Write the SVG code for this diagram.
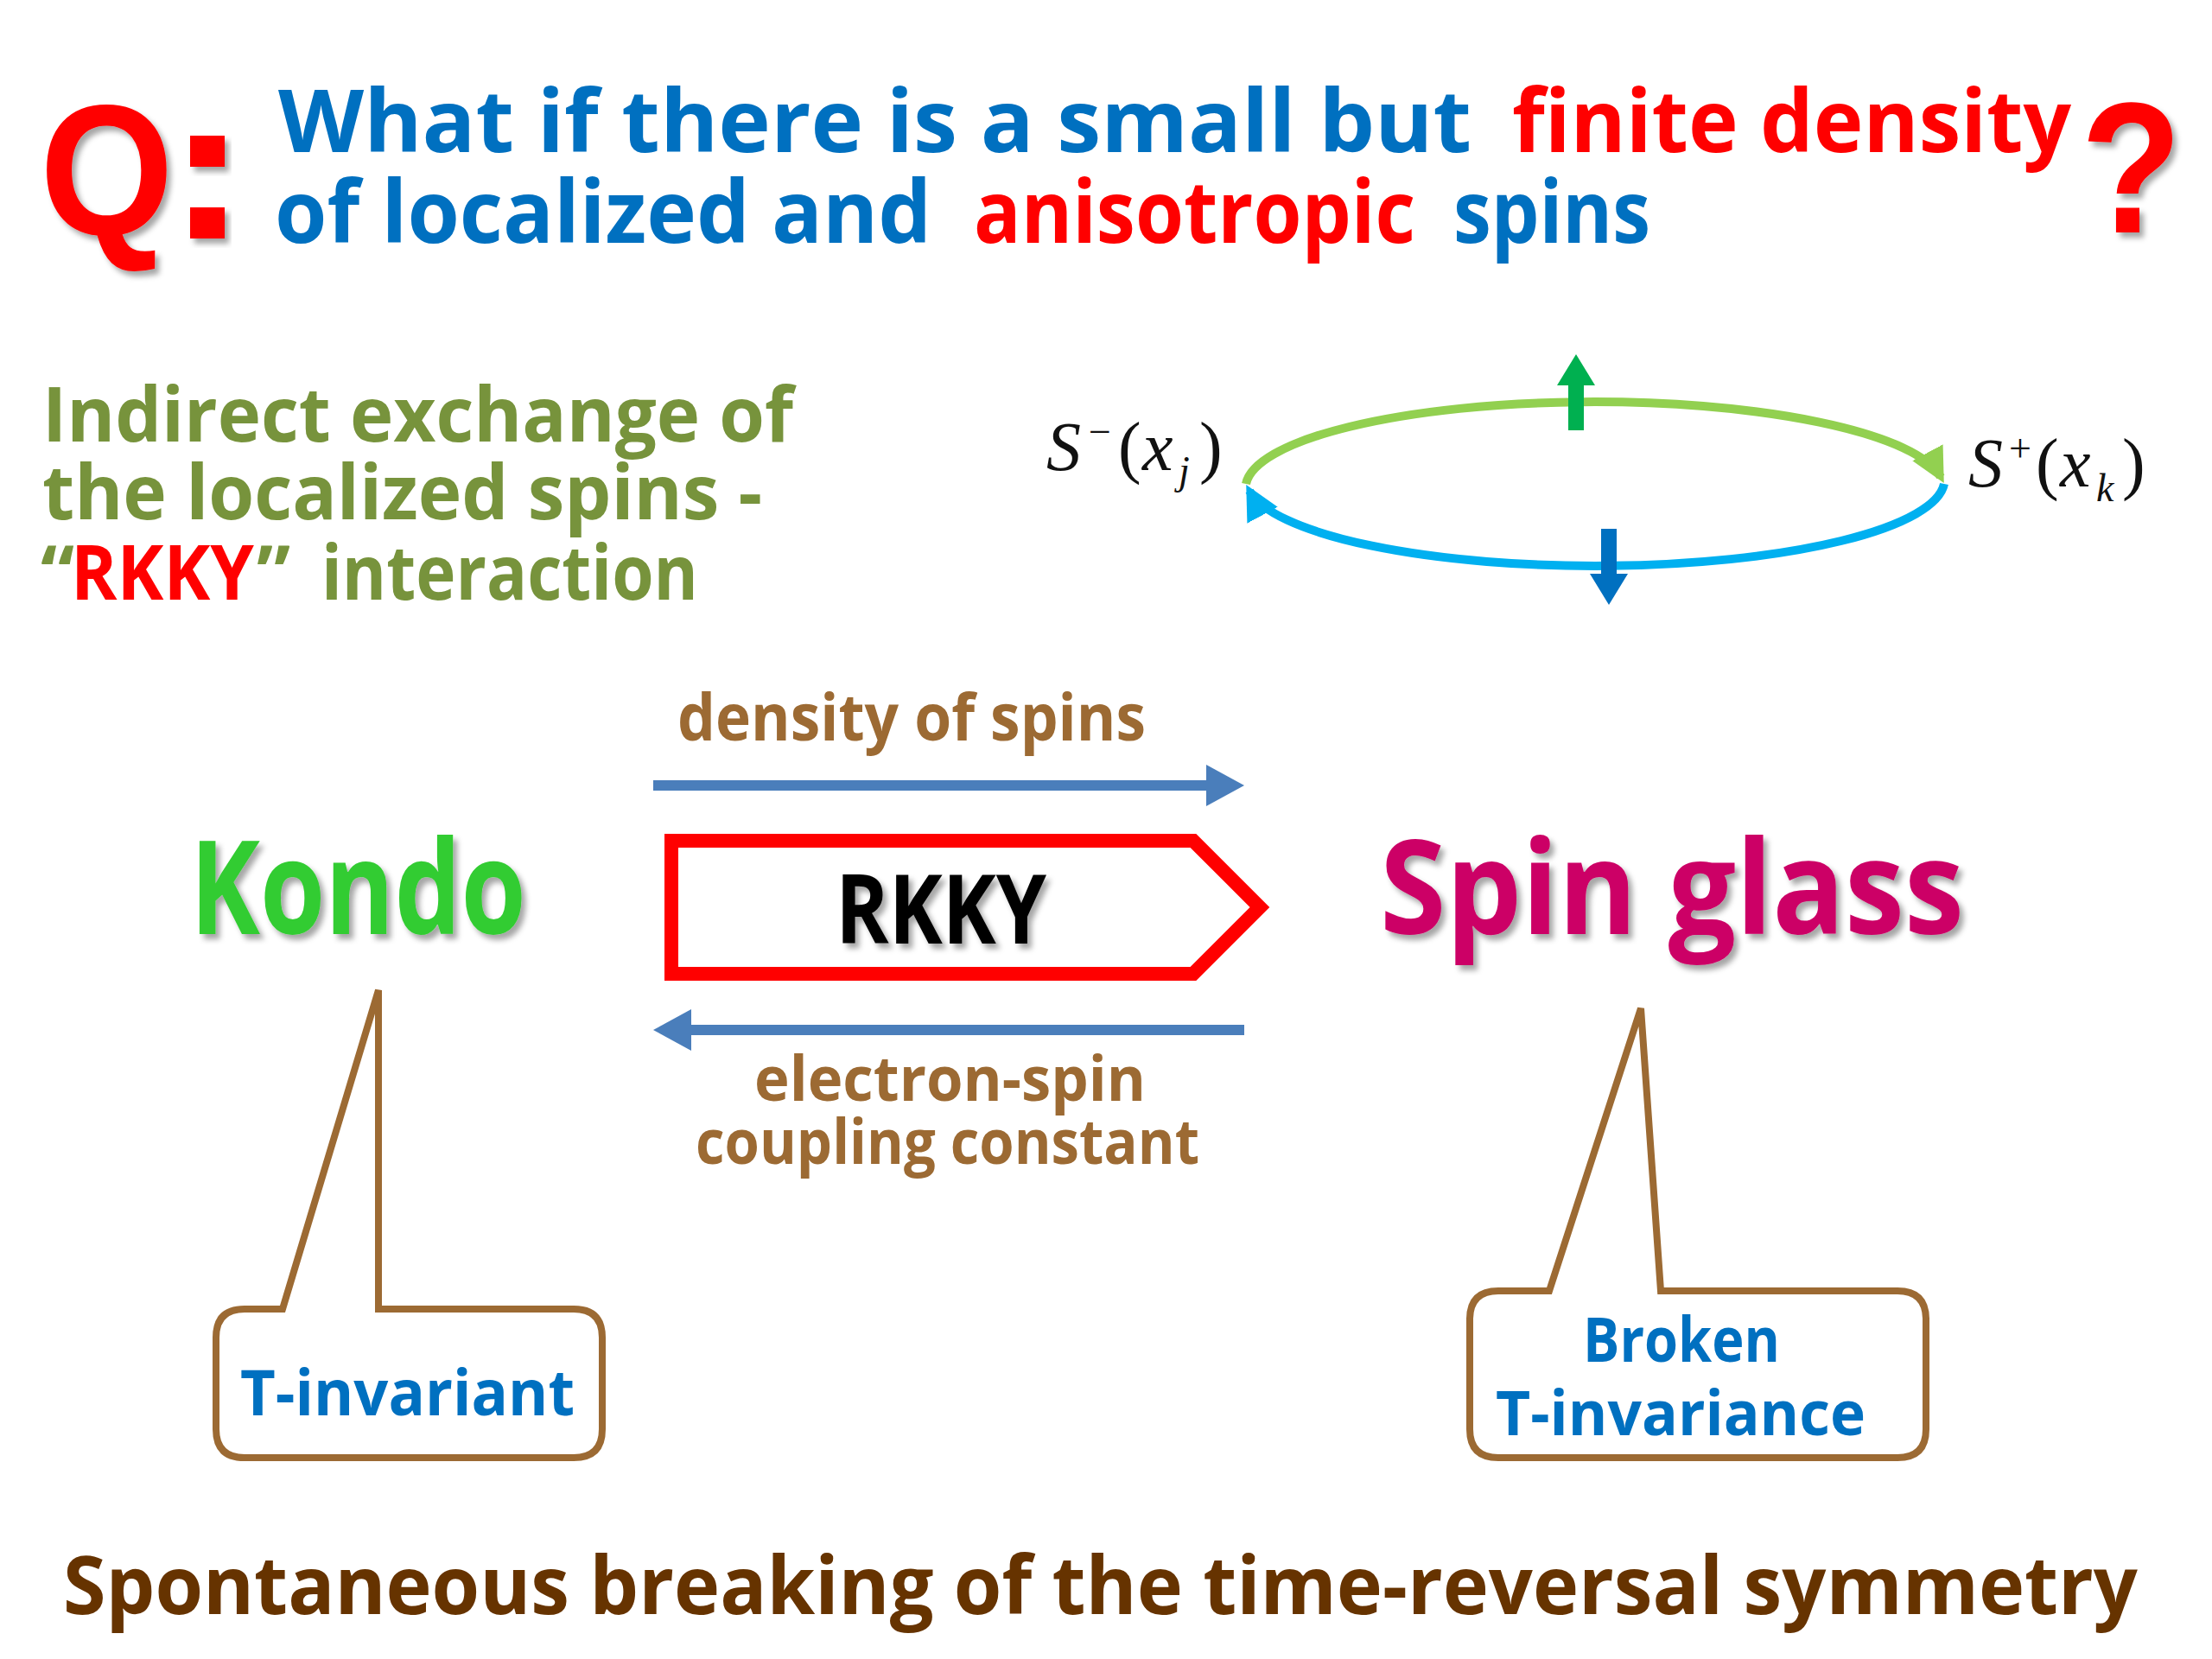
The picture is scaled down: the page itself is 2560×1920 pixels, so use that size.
<svg xmlns="http://www.w3.org/2000/svg" width="2560" height="1920" viewBox="0 0 2560 1920">
<style>
.cs{font-family:"Open Sans","Noto Sans",sans-serif;font-weight:700}
.blue{fill:#0070C0}
.red{fill:#FF0000}
.olive{fill:#77933C}
.brown{fill:#9C6A33}
.math{font-family:"Liberation Serif","Times New Roman",serif;fill:#111}
.callout{fill:#FFFFFF;stroke:#9C6A33;stroke-width:8;stroke-linejoin:miter}
</style>
<defs>
<filter id="shadow" x="-10%" y="-10%" width="130%" height="140%">
<feDropShadow dx="5" dy="6" stdDeviation="3" flood-color="#000" flood-opacity="0.35"/>
</filter>
<marker id="headGreen" viewBox="0 0 10 10" refX="8" refY="5" markerWidth="4" markerHeight="4" orient="auto" markerUnits="strokeWidth">
<path d="M0,0 L10,5 L0,10 Z" fill="#92D050"/>
</marker>
<marker id="headCyan" viewBox="0 0 10 10" refX="8" refY="5" markerWidth="4" markerHeight="4" orient="auto" markerUnits="strokeWidth">
<path d="M0,0 L10,5 L0,10 Z" fill="#00B0F0"/>
</marker>
</defs>
<rect width="2560" height="1920" fill="#FFFFFF"/>

<g id="title">
<text x="46" y="272" font-family="Liberation Sans,Arial,sans-serif" font-weight="700" font-size="215" fill="#FF0000" filter="url(#shadow)" textLength="155" lengthAdjust="spacingAndGlyphs">Q</text>
<rect x="220" y="157" width="40" height="36" fill="#FF0000" filter="url(#shadow)"/>
<rect x="220" y="240" width="40" height="36" fill="#FF0000" filter="url(#shadow)"/>
<text class="cs blue" x="322" y="176" font-size="100" textLength="1381" lengthAdjust="spacingAndGlyphs">What if there is a small but</text>
<text class="cs red" x="1750" y="176" font-size="100" textLength="647" lengthAdjust="spacingAndGlyphs">finite density</text>
<text class="cs blue" x="318" y="281" font-size="100" textLength="760" lengthAdjust="spacingAndGlyphs">of localized and</text>
<text class="cs red" x="1127" y="281" font-size="100" textLength="511" lengthAdjust="spacingAndGlyphs">anisotropic</text>
<text class="cs blue" x="1682" y="281" font-size="100" textLength="228" lengthAdjust="spacingAndGlyphs">spins</text>
<text x="2408" y="269" font-family="Liberation Sans,Arial,sans-serif" font-weight="700" font-size="215" fill="#FF0000" filter="url(#shadow)" textLength="117" lengthAdjust="spacingAndGlyphs">?</text>
</g>

<g id="rkky-description">
<text class="cs olive" x="49" y="511" font-size="88" textLength="869" lengthAdjust="spacingAndGlyphs">Indirect exchange of</text>
<text class="cs olive" x="49" y="601" font-size="88" textLength="833" lengthAdjust="spacingAndGlyphs">the localized spins -</text>
<text class="cs olive" x="47" y="694" font-size="88">“</text>
<text class="cs red" x="82" y="694" font-size="88" textLength="212" lengthAdjust="spacingAndGlyphs">RKKY</text>
<text class="cs olive" x="297" y="694" font-size="88">”</text>
<text class="cs olive" x="372" y="694" font-size="88" textLength="436" lengthAdjust="spacingAndGlyphs">interaction</text>
</g>

<g id="spin-loop">
<path d="M1442 560 A404 100 0 0 1 2246 552" fill="none" stroke="#92D050" stroke-width="10" marker-end="url(#headGreen)"/>
<path d="M2250 560 A404 100 0 0 1 1446 568" fill="none" stroke="#00B0F0" stroke-width="10" marker-end="url(#headCyan)"/>
<polygon points="1815,498 1833,498 1833,446 1846,446 1824,410 1802,446 1815,446" fill="#00B050"/>
<polygon points="1853,612 1871,612 1871,664 1884,664 1862,700 1840,664 1853,664" fill="#0070C0"/>
<text class="math" y="544" font-size="80"><tspan x="1211" font-style="italic">S</tspan><tspan x="1260" y="515" font-size="46">−</tspan><tspan x="1294" y="544" font-size="80">(</tspan><tspan x="1322" font-style="italic">x</tspan><tspan x="1364" y="560" font-size="46" font-style="italic">j</tspan><tspan x="1388" y="544">)</tspan></text>
<text class="math" y="563" font-size="80"><tspan x="2278" font-style="italic">S</tspan><tspan x="2325" y="534" font-size="46">+</tspan><tspan x="2356" y="563">(</tspan><tspan x="2384" font-style="italic">x</tspan><tspan x="2426" y="580" font-size="46" font-style="italic">k</tspan><tspan x="2456" y="563">)</tspan></text>
</g>

<g id="kondo">
<text class="cs" x="220" y="1081" font-size="150" fill="#33CC33" filter="url(#shadow)" textLength="389" lengthAdjust="spacingAndGlyphs">Kondo</text>
</g>

<g id="spin-glass">
<text class="cs" x="1597" y="1081" font-size="150" fill="#CC0066" filter="url(#shadow)" textLength="676" lengthAdjust="spacingAndGlyphs">Spin glass</text>
</g>

<g id="rkky-box">
<path d="M777 973 L1381 973 L1458 1050 L1381 1127 L777 1127 Z" fill="#FFFFFF" stroke="#FF0000" stroke-width="16" stroke-linejoin="miter"/>
<text class="cs" x="967" y="1092" font-size="112" fill="#000000" filter="url(#shadow)" textLength="244" lengthAdjust="spacingAndGlyphs">RKKY</text>
</g>

<g id="connectors">
<g id="arrow-density">
<rect x="756" y="903" width="642" height="12" fill="#4A7EBB"/>
<polygon points="1396,885 1440,909 1396,933" fill="#4A7EBB"/>
</g>
<g id="arrow-coupling">
<rect x="798" y="1186" width="642" height="12" fill="#4A7EBB"/>
<polygon points="800,1168 756,1192 800,1216" fill="#4A7EBB"/>
</g>
</g>

<g id="label-density">
<text class="cs brown" x="784" y="857" font-size="76" textLength="542" lengthAdjust="spacingAndGlyphs">density of spins</text>
</g>

<g id="label-coupling">
<text class="cs brown" x="873" y="1274" font-size="72" textLength="453" lengthAdjust="spacingAndGlyphs">electron-spin</text>
<text class="cs brown" x="805" y="1347" font-size="72" textLength="583" lengthAdjust="spacingAndGlyphs">coupling constant</text>
</g>

<g id="callout-kondo">
<path class="callout" d="M283 1515 L327 1515 L438 1146 L438 1515 L664 1515 Q697 1515 697 1548 L697 1654 Q697 1687 664 1687 L283 1687 Q250 1687 250 1654 L250 1548 Q250 1515 283 1515 Z"/>
<text class="cs blue" x="278" y="1638" font-size="74" textLength="387" lengthAdjust="spacingAndGlyphs">T-invariant</text>
</g>

<g id="callout-spinglass">
<path class="callout" d="M1734 1494 L1793 1494 L1899 1167 L1922 1494 L2196 1494 Q2229 1494 2229 1527 L2229 1654 Q2229 1687 2196 1687 L1734 1687 Q1701 1687 1701 1654 L1701 1527 Q1701 1494 1734 1494 Z"/>
<text class="cs blue" x="1832" y="1576" font-size="72" textLength="228" lengthAdjust="spacingAndGlyphs">Broken</text>
<text class="cs blue" x="1731" y="1661" font-size="72" textLength="428" lengthAdjust="spacingAndGlyphs">T-invariance</text>
</g>

<g id="footer">
<text class="cs" x="73" y="1868" font-size="94" fill="#663300" textLength="2401" lengthAdjust="spacingAndGlyphs">Spontaneous breaking of the time-reversal symmetry</text>
</g>
</svg>
